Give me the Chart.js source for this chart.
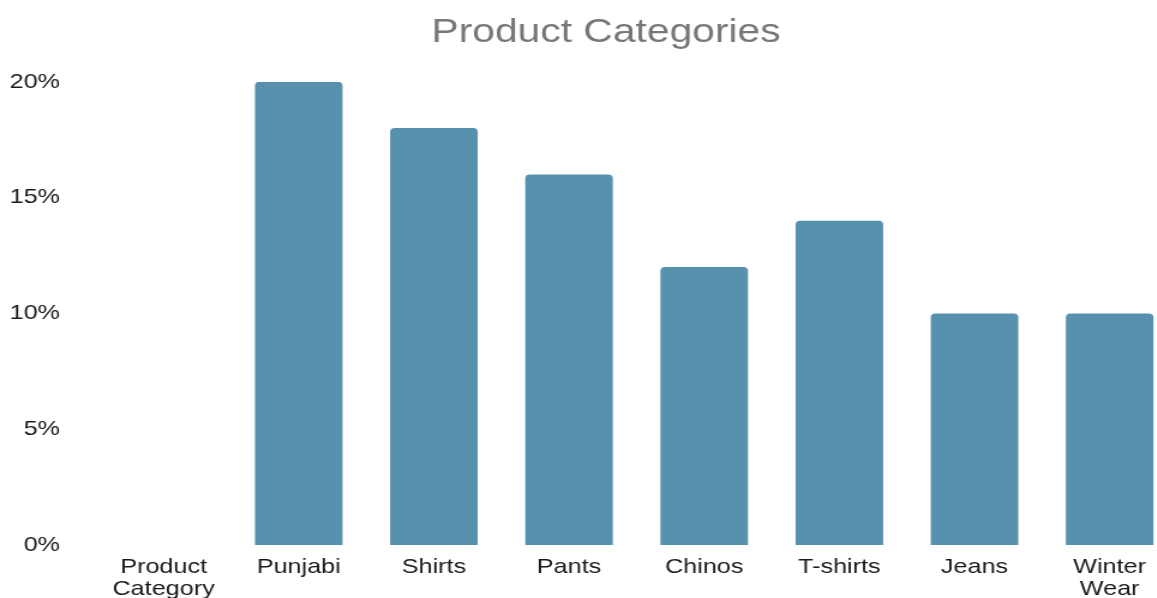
<!DOCTYPE html>
<html>
<head>
<meta charset="utf-8">
<script src="https://cdn.jsdelivr.net/npm/chart.js@4/dist/chart.umd.min.js"></script>
<style>
    html, body { margin: 0; padding: 0; background: #fff; overflow: hidden; }
    /* the reference is stretched horizontally, so draw narrower and stretch */
    .chart-wrap { width: 1010px; height: 598px; transform: scaleX(1.2); transform-origin: 0 0; }
</style>
</head>
<body>
<div class="chart-wrap"><canvas id="categorychart"></canvas></div>
<script>
"use strict";

var categories = [['Product', 'Category'], 'Punjabi', 'Shirts', 'Pants', 'Chinos', 'T-shirts', 'Jeans', ['Winter', 'Wear']];
var shares = [null, 20, 18, 16, 12, 14, 10, 10];
var yTicks = [0, 5, 10, 15, 20];

document.addEventListener("DOMContentLoaded", function () {
    var ctx = document.getElementById('categorychart').getContext('2d');
    var fontFamily = '"Liberation Sans", Arial, Helvetica, sans-serif';

    var mycategorychart = {
        type: 'bar',
        data: {
            labels: categories,
            datasets: [{
                label: 'Share',
                data: shares,
                backgroundColor: '#5891ad',
                borderWidth: 0,
                borderRadius: 4,
                barPercentage: 0.9,
                categoryPercentage: 0.72
            }]
        },
        options: {
            responsive: true,
            maintainAspectRatio: false,
            animation: false,
            layout: {
                padding: { left: 8, right: 8, top: 0, bottom: 0 }
            },
            plugins: {
                legend: { display: false },
                tooltip: { enabled: false },
                title: {
                    display: true,
                    text: 'Product Categories',
                    color: '#777777',
                    font: { family: fontFamily, size: 34, weight: 'normal' },
                    padding: { top: 12, bottom: 29 }
                }
            },
            scales: {
                y: {
                    min: yTicks[0],
                    max: yTicks[yTicks.length - 1],
                    afterBuildTicks: function (scale) {
                        scale.ticks = yTicks.map(function (v) { return { value: v }; });
                    },
                    afterFit: function (scale) {
                        scale.width = 72;
                    },
                    grid: { display: false, drawTicks: false },
                    border: { display: false },
                    ticks: {
                        color: '#1a1a1a',
                        padding: 30,
                        font: { family: fontFamily, size: 21 },
                        callback: function (v) { return v + '%'; }
                    }
                },
                x: {
                    afterFit: function (scale) {
                        // keep the plot edge off the right side while the title stays centred
                        scale.height = 53;
                        scale.paddingLeft = 0;
                        scale.paddingRight = 29;
                    },
                    grid: { display: false, drawTicks: false },
                    border: { display: false },
                    ticks: {
                        color: '#1a1a1a',
                        padding: 11,
                        autoSkip: false,
                        maxRotation: 0,
                        font: { family: fontFamily, size: 21, lineHeight: 1.05 }
                    }
                }
            }
        }
    };
    new Chart(ctx, mycategorychart);
});
</script>
</body>
</html>
